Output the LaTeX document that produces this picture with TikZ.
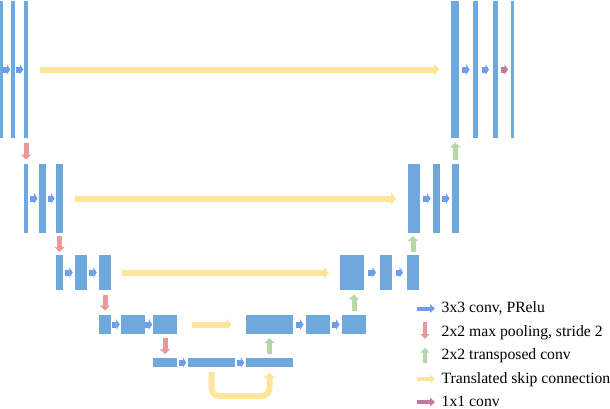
\documentclass[tikz,border=0pt]{standalone}
\usepackage{fontspec}
\setmainfont{Liberation Serif}
\usetikzlibrary{arrows.meta,calc}

\definecolor{barblue}{HTML}{6FA8DC}
\definecolor{convblue}{HTML}{6D9EEB}
\definecolor{poolred}{HTML}{EA9999}
\definecolor{upgreen}{HTML}{B6D7A8}
\definecolor{skipyellow}{HTML}{FFE599}
\definecolor{finalpurple}{HTML}{C27BA0}

\begin{document}
\begin{tikzpicture}[
    x=1pt, y=-1pt,
    bar/.style={fill=barblue, inner sep=0pt, outer sep=0pt, minimum width=#1},
    row1/.style={bar=#1, minimum height=137pt},
    row2/.style={bar=#1, minimum height=69pt},
    row3/.style={bar=#1, minimum height=35pt},
    row4/.style={bar=#1, minimum height=19pt},
    row5/.style={bar=#1, minimum height=9pt},
    conv/.style={draw=convblue, line width=6pt, -{Triangle[length=3.5pt, width=10.5pt]}, shorten <=#1, shorten >=#1},
    conv/.default=1.5pt,
    final/.style={conv=#1, draw=finalpurple},
    final/.default=3pt,
    pool/.style={draw=poolred, line width=5pt, -{Triangle[length=5pt, width=10pt]}, shorten <=#1, shorten >=#1},
    pool/.default=4pt,
    upconv/.style={draw=upgreen, line width=5pt, -{Triangle[length=5pt, width=10pt]}, shorten <=#1, shorten >=#1},
    upconv/.default=4pt,
    skip/.style={draw=skipyellow, line width=6pt, -{Triangle[length=5pt, width=12pt]}, shorten <=#1, shorten >=#1},
    skip/.default=12pt,
    keytext/.style={font=\fontsize{15.7}{18}\selectfont, anchor=base west, inner sep=0pt},
    keyarrow/.style={draw=#1, line width=4pt, -{Triangle[length=5pt, width=8.5pt]}}
]
\useasboundingbox (0,0) rectangle (610,408);

% Encoder
\node[row1=2.5pt] (L1a) at (1.25,69.5) {};
\node[row1=4pt] (L1b) at (13,69.5) {};
\node[row1=4pt] (L1c) at (26,69.5) {};

\node[row2=4pt] (L2a) at (26,198.5) {};
\node[row2=7pt] (L2b) at (42.5,198.5) {};
\node[row2=7pt] (L2c) at (59.5,198.5) {};

\node[row3=7pt] (L3a) at (59.5,272.5) {};
\node[row3=12pt] (L3b) at (81,272.5) {};
\node[row3=12pt] (L3c) at (105,272.5) {};

\node[row4=12pt] (L4a) at (105,324.5) {};
\node[row4=23.5pt] (L4b) at (132.75,324.5) {};
\node[row4=24pt] (L4c) at (165,324.5) {};

% Bottom
\node[row5=24pt] (L5a) at (165,362.5) {};
\node[row5=47pt] (L5b) at (211.5,362.5) {};
\node[row5=47pt] (L5c) at (269.5,362.5) {};

% Decoder
\node[row4=47pt] (R4a) at (269.5,324.5) {};
\node[row4=23.5pt] (R4b) at (317.75,324.5) {};
\node[row4=24pt] (R4c) at (354,324.5) {};

\node[row3=24pt] (R3a) at (352,272.5) {};
\node[row3=12pt] (R3b) at (386,272.5) {};
\node[row3=12pt] (R3c) at (413,272.5) {};

\node[row2=12pt] (R2a) at (414,198.5) {};
\node[row2=6.5pt] (R2b) at (436.25,198.5) {};
\node[row2=6.5pt] (R2c) at (455.25,198.5) {};

\node[row1=7.5pt] (R1a) at (454.75,69.5) {};
\node[row1=4.5pt] (R1b) at (475.25,69.5) {};
\node[row1=4.5pt] (R1c) at (495.25,69.5) {};
\node[row1=2.5pt] (R1d) at (512.25,69.5) {};

% Convolutions
\draw[conv=0.75pt] (L1a) -- (L1b);
\draw[conv=0.75pt] (L1b) -- (L1c);
\draw[conv] (L2a) -- (L2b);
\draw[conv] (L2b) -- (L2c);
\draw[conv=2.25pt] (L3a) -- (L3b);
\draw[conv=2.25pt] (L3b) -- (L3c);
\draw[conv=1.25pt] (L4a) -- (L4b);
\draw[conv=0.75pt] (L4b) -- (L4c);
\draw[conv=1.75pt] (L5a) -- (L5b);
\draw[conv=1.75pt] (L5b) -- (L5c);
\draw[conv=2.5pt] (R4a) -- (R4b);
\draw[conv=2.5pt] (R4b) -- (R4c);
\draw[conv=4pt] (R3a) -- (R3b);
\draw[conv=4pt] (R3b) -- (R3c);
\draw[conv=2.5pt] (R2a) -- (R2b);
\draw[conv=2.5pt] (R2b) -- (R2c);
\draw[conv=3.5pt] (R1a) -- (R1b);
\draw[conv=4pt] (R1b) -- (R1c);
\draw[final] (R1c) -- (R1d);

% Pooling
\draw[pool=4.5pt] (L1c.south) -- (L1c.south |- L2a.north);
\draw[pool=3pt] (L2c.south) -- (L2c.south |- L3a.north);
\draw[pool=4.5pt] (L3c.south) -- (L3c.south |- L4a.north);
\draw[pool] (L4c.south) -- (L4c.south |- L5a.north);

% Transposed convolutions
\draw[upconv] (L5c.north) -- (L5c.north |- R4a.south);
\draw[upconv=4.5pt] (R4c.north) -- (R4c.north |- R3a.south);
\draw[upconv=3pt] (R3c.north) -- (R3c.north |- R2a.south);
\draw[upconv=4.5pt] (R2c.north) -- (R2c.north |- R1a.south);

% Skip connections
\draw[skip=12pt] (L1c) -- (R1a);
\draw[skip] (L2c) -- (R2a);
\draw[skip=11pt] (L3c) -- (R3a);
\draw[skip=14.5pt] (L4c) -- (R4a);
\draw[skip=5pt, shorten >=6pt, rounded corners=8pt] (L5b.south) -- ++(0,29) -| (L5c.south);

% Legend
\node[keytext] (key1) at (441.5,312.5) {3x3 conv, PRelu};
\node[keytext] (key2) at (441.5,336) {2x2 max pooling, stride 2};
\node[keytext] (key3) at (441.5,359.5) {2x2 transposed conv};
\node[keytext] (key4) at (441.5,383) {Translated skip connection};
\node[keytext] (key5) at (441.5,406) {1x1 conv};

\draw[keyarrow=convblue] ([shift={(-24.5,-4)}]key1.base west) -- ([shift={(-6.5,-4)}]key1.base west);
\draw[keyarrow=poolred] ([shift={(-16.5,-14)}]key2.base west) -- ([shift={(-16.5,3)}]key2.base west);
\draw[keyarrow=upgreen] ([shift={(-16.5,3)}]key3.base west) -- ([shift={(-16.5,-12)}]key3.base west);
\draw[keyarrow=skipyellow] ([shift={(-24.5,-4)}]key4.base west) -- ([shift={(-6.5,-4)}]key4.base west);
\draw[keyarrow=finalpurple] ([shift={(-24.5,-4)}]key5.base west) -- ([shift={(-6.5,-4)}]key5.base west);

\end{tikzpicture}
\end{document}
